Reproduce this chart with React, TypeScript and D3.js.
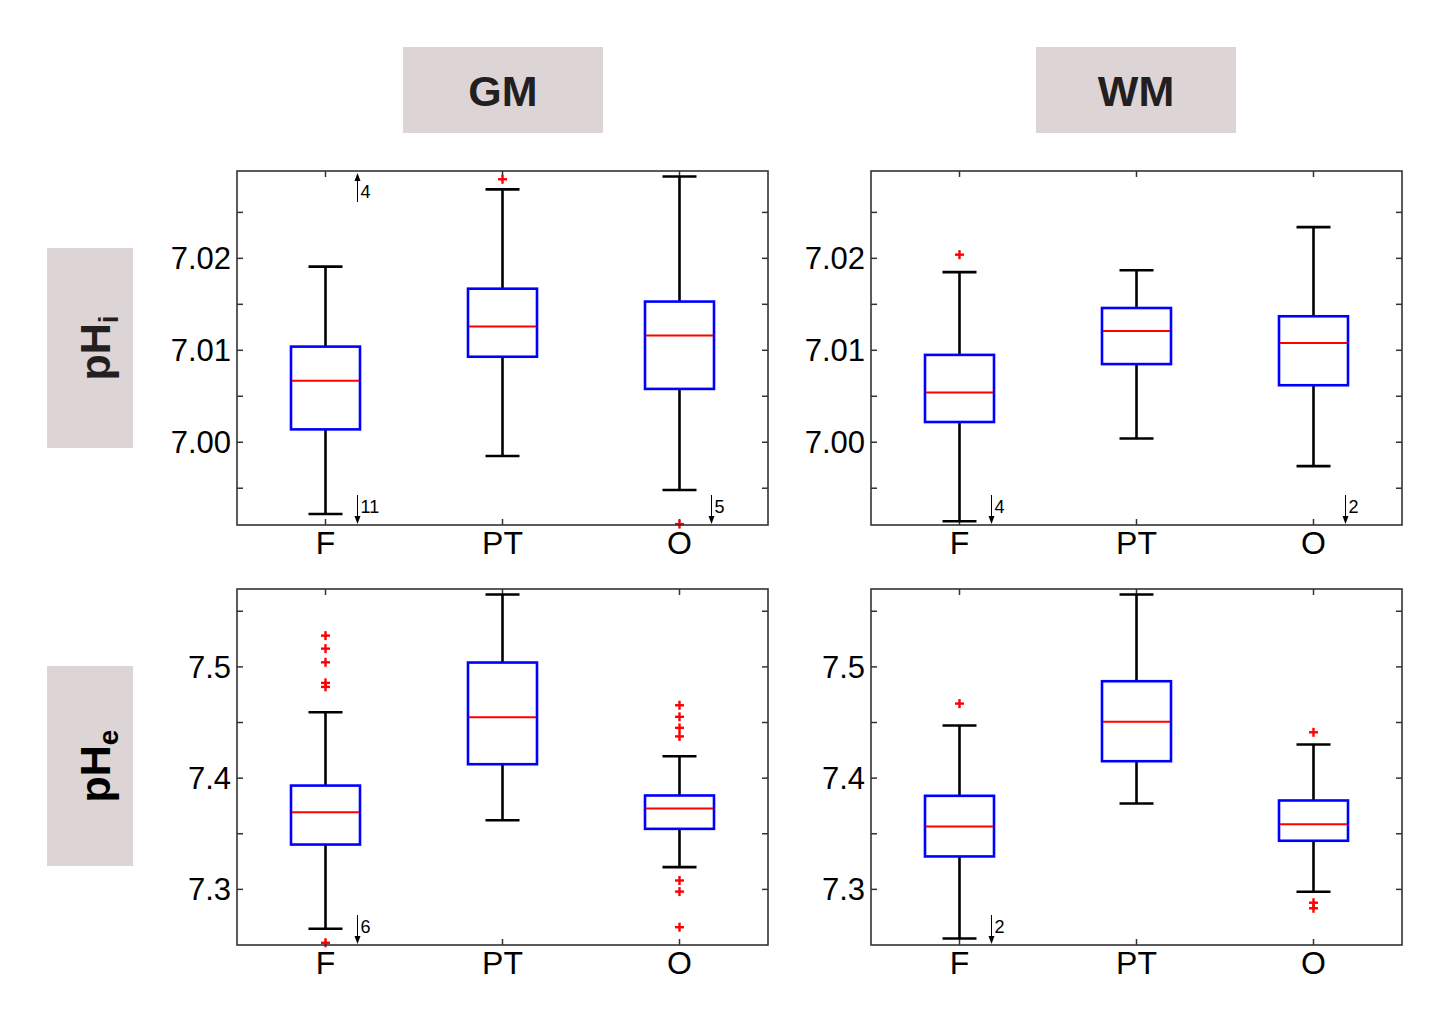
import React from "react";
import * as d3 from "d3";

const groups = ["F", "PT", "O"];
const columnTitles = ["GM", "WM"];

const ticksPhi = [7.0, 7.01, 7.02];
const minorPhi = [6.995, 7.0, 7.005, 7.01, 7.015, 7.02, 7.025];
const domainPhi = [6.991, 7.0295];
const ticksPhe = [7.3, 7.4, 7.5];
const minorPhe = [7.3, 7.35, 7.4, 7.45, 7.5, 7.55];
const domainPhe = [7.25, 7.57];

// GM pHi
const gmPhiLow = [6.9922, 6.9985, 6.9948];
const gmPhiQ1 = [7.0014, 7.0093, 7.0058];
const gmPhiMed = [7.0067, 7.0126, 7.0116];
const gmPhiQ3 = [7.0104, 7.0167, 7.0153];
const gmPhiHigh = [7.0191, 7.0275, 7.0289];
const gmPhiOut = [[], [7.0286], [6.9911]];
const gmPhiOffLow = [11, 0, 5];
const gmPhiOffHigh = [4, 0, 0];

// WM pHi
const wmPhiLow = [6.9914, 7.0004, 6.9974];
const wmPhiQ1 = [7.0022, 7.0085, 7.0062];
const wmPhiMed = [7.0054, 7.0121, 7.0108];
const wmPhiQ3 = [7.0095, 7.0146, 7.0137];
const wmPhiHigh = [7.0185, 7.0187, 7.0234];
const wmPhiOut = [[7.0204], [], []];
const wmPhiOffLow = [4, 0, 2];
const wmPhiOffHigh = [0, 0, 0];

// GM pHe
const gmPheLow = [7.2646, 7.3622, 7.32];
const gmPheQ1 = [7.3403, 7.4125, 7.3544];
const gmPheMed = [7.3694, 7.4547, 7.3727];
const gmPheQ3 = [7.3933, 7.5039, 7.3844];
const gmPheHigh = [7.4592, 7.565, 7.4197];
const gmPheOut = [
  [7.5281, 7.5164, 7.5041, 7.4856, 7.482, 7.252],
  [],
  [7.4655, 7.4551, 7.4452, 7.4375, 7.308, 7.298, 7.266],
];
const gmPheOffLow = [6, 0, 0];
const gmPheOffHigh = [0, 0, 0];

// WM pHe
const wmPheLow = [7.2559, 7.3772, 7.2978];
const wmPheQ1 = [7.3296, 7.4152, 7.3437];
const wmPheMed = [7.3565, 7.4506, 7.3586];
const wmPheQ3 = [7.3841, 7.4871, 7.3799];
const wmPheHigh = [7.4473, 7.565, 7.4302];
const wmPheOut = [[7.467], [], [7.4412, 7.288, 7.283]];
const wmPheOffLow = [2, 0, 0];
const wmPheOffHigh = [0, 0, 0];

type PanelProps = {
  x0: number; y0: number; w: number; h: number;
  domain: number[]; ticks: number[]; minor: number[]; fmt: (v: number) => string;
  low: number[]; q1: number[]; med: number[]; q3: number[]; high: number[];
  out: number[][]; offLow: number[]; offHigh: number[];
};

function Panel(p: PanelProps) {
  const x = d3.scaleLinear().domain([0.5, groups.length + 0.5]).range([p.x0, p.x0 + p.w]);
  const y = d3.scaleLinear().domain(p.domain).range([p.y0 + p.h, p.y0]);
  const bw = 69;
  const cw = 34;
  const tl = 6;
  const left = p.x0, right = p.x0 + p.w, top = p.y0, bottom = p.y0 + p.h;
  const font = "Arial, 'Liberation Sans', sans-serif";
  return (
    <g>
      {/* ticks */}
      {p.minor.map((v, i) => (
        <g key={"t" + i}>
          <line x1={left} x2={left + tl} y1={y(v)} y2={y(v)} stroke="#333" strokeWidth={1.5} />
          <line x1={right} x2={right - tl} y1={y(v)} y2={y(v)} stroke="#333" strokeWidth={1.5} />
        </g>
      ))}
      {groups.map((g, i) => (
        <g key={"xt" + i}>
          <line x1={x(i + 1)} x2={x(i + 1)} y1={top} y2={top + tl} stroke="#333" strokeWidth={1.5} />
          <line x1={x(i + 1)} x2={x(i + 1)} y1={bottom} y2={bottom - tl} stroke="#333" strokeWidth={1.5} />
          <text x={x(i + 1)} y={bottom + 29} textAnchor="middle" fontFamily={font} fontSize={32} fill="#000">{g}</text>
        </g>
      ))}
      {p.ticks.map((v, i) => (
        <text key={"yl" + i} x={left - 6} y={y(v) + 11} textAnchor="end" fontFamily={font} fontSize={31} fill="#000">{p.fmt(v)}</text>
      ))}
      {/* boxes */}
      {groups.map((g, i) => {
        const cx = x(i + 1);
        return (
          <g key={"b" + i}>
            <line x1={cx} x2={cx} y1={y(p.high[i])} y2={y(p.q3[i])} stroke="#000" strokeWidth={2.6} />
            <line x1={cx} x2={cx} y1={y(p.q1[i])} y2={y(p.low[i])} stroke="#000" strokeWidth={2.6} />
            <line x1={cx - cw / 2} x2={cx + cw / 2} y1={y(p.high[i])} y2={y(p.high[i])} stroke="#000" strokeWidth={2.6} />
            <line x1={cx - cw / 2} x2={cx + cw / 2} y1={y(p.low[i])} y2={y(p.low[i])} stroke="#000" strokeWidth={2.6} />
            <rect x={cx - bw / 2} y={y(p.q3[i])} width={bw} height={y(p.q1[i]) - y(p.q3[i])} fill="none" stroke="#0000ff" strokeWidth={2.6} />
            <line x1={cx - bw / 2 + 1} x2={cx + bw / 2 - 1} y1={y(p.med[i])} y2={y(p.med[i])} stroke="#ff0000" strokeWidth={2} />
            {p.out[i].map((v, j) => (
              <g key={"o" + j} stroke="#ff0000" strokeWidth={2.4}>
                <line x1={cx - 4.5} x2={cx + 4.5} y1={y(v)} y2={y(v)} />
                <line x1={cx} x2={cx} y1={y(v) - 4.5} y2={y(v) + 4.5} />
              </g>
            ))}
            {p.offLow[i] > 0 && (
              <g>
                <line x1={cx + 32} x2={cx + 32} y1={bottom - 30} y2={bottom - 6} stroke="#000" strokeWidth={1} />
                <path d={`M${cx + 29},${bottom - 9} L${cx + 32},${bottom - 1} L${cx + 35},${bottom - 9} Z`} fill="#000" />
                <text x={cx + 35} y={bottom - 12} fontFamily={font} fontSize={18} fill="#000">{p.offLow[i]}</text>
              </g>
            )}
            {p.offHigh[i] > 0 && (
              <g>
                <line x1={cx + 32} x2={cx + 32} y1={top + 31} y2={top + 7} stroke="#000" strokeWidth={1} />
                <path d={`M${cx + 29},${top + 10} L${cx + 32},${top + 2} L${cx + 35},${top + 10} Z`} fill="#000" />
                <text x={cx + 35} y={top + 27} fontFamily={font} fontSize={18} fill="#000">{p.offHigh[i]}</text>
              </g>
            )}
          </g>
        );
      })}
      <rect x={left} y={top} width={p.w} height={p.h} fill="none" stroke="#333" strokeWidth={1.6} />
    </g>
  );
}

export default function App() {
  const font = "Arial, 'Liberation Sans', sans-serif";
  const headBg = "#ddd5d5";
  const headFg = "#231f20";
  const fmtI = (v: number) => d3.format(".2f")(v);
  const fmtE = (v: number) => d3.format(".1f")(v);
  const colX = [237, 871];
  const rowY = [171, 589];
  const pw = 531;
  const phI = 354;
  const phE = 356;
  return (
    <svg width={1450} height={1019} style={{ position: "absolute", left: 0, top: 0, background: "#fff" }}>
      <rect x={0} y={0} width={1450} height={1019} fill="#fff" />
      {columnTitles.map((t, i) => (
        <g key={t}>
          <rect x={[403, 1036][i]} y={47} width={200} height={86} fill={headBg} />
          <text x={[403, 1036][i] + 100} y={106} textAnchor="middle" fontFamily={font} fontWeight="bold" fontSize={43} fill={headFg}>{t}</text>
        </g>
      ))}
      <rect x={47} y={248} width={86} height={200} fill={headBg} />
      <text transform="translate(110,348) rotate(-90)" textAnchor="middle" fontFamily={font} fontWeight="bold" fontSize={43} fill={headFg}>
        pH<tspan fontSize={28} dy={8}>i</tspan>
      </text>
      <rect x={47} y={666} width={86} height={200} fill={headBg} />
      <text transform="translate(110,766) rotate(-90)" textAnchor="middle" fontFamily={font} fontWeight="bold" fontSize={43} fill="#000">
        pH<tspan fontSize={28} dy={8}>e</tspan>
      </text>
      <Panel x0={colX[0]} y0={rowY[0]} w={pw} h={phI} domain={domainPhi} ticks={ticksPhi} minor={minorPhi} fmt={fmtI}
        low={gmPhiLow} q1={gmPhiQ1} med={gmPhiMed} q3={gmPhiQ3} high={gmPhiHigh} out={gmPhiOut} offLow={gmPhiOffLow} offHigh={gmPhiOffHigh} />
      <Panel x0={colX[1]} y0={rowY[0]} w={pw} h={phI} domain={domainPhi} ticks={ticksPhi} minor={minorPhi} fmt={fmtI}
        low={wmPhiLow} q1={wmPhiQ1} med={wmPhiMed} q3={wmPhiQ3} high={wmPhiHigh} out={wmPhiOut} offLow={wmPhiOffLow} offHigh={wmPhiOffHigh} />
      <Panel x0={colX[0]} y0={rowY[1]} w={pw} h={phE} domain={domainPhe} ticks={ticksPhe} minor={minorPhe} fmt={fmtE}
        low={gmPheLow} q1={gmPheQ1} med={gmPheMed} q3={gmPheQ3} high={gmPheHigh} out={gmPheOut} offLow={gmPheOffLow} offHigh={gmPheOffHigh} />
      <Panel x0={colX[1]} y0={rowY[1]} w={pw} h={phE} domain={domainPhe} ticks={ticksPhe} minor={minorPhe} fmt={fmtE}
        low={wmPheLow} q1={wmPheQ1} med={wmPheMed} q3={wmPheQ3} high={wmPheHigh} out={wmPheOut} offLow={wmPheOffLow} offHigh={wmPheOffHigh} />
    </svg>
  );
}
